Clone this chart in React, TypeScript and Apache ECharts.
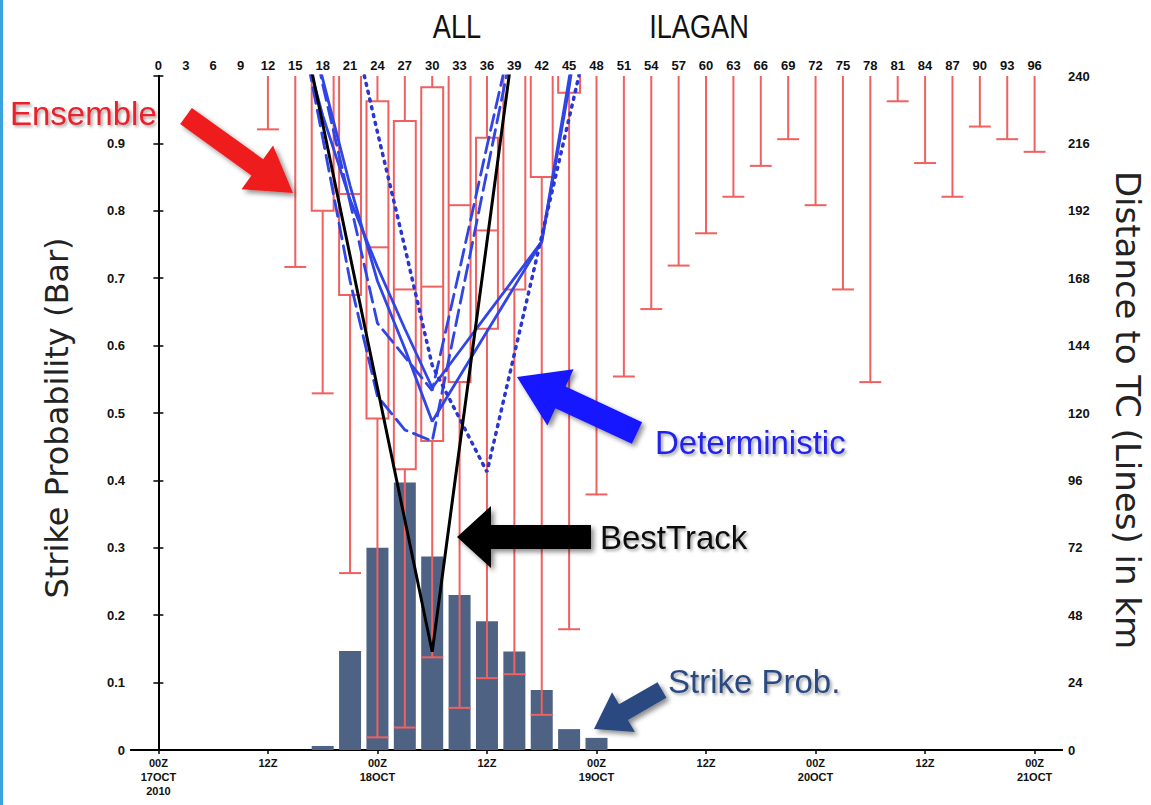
import { useEffect, useRef } from 'react';
import * as echarts from 'echarts';

// ---------- data ----------
const topHourLabels = [0, 3, 6, 9, 12, 15, 18, 21, 24, 27, 30, 33, 36, 39, 42, 45, 48, 51, 54, 57, 60, 63, 66, 69, 72, 75, 78, 81, 84, 87, 90, 93, 96];
const bottomTickHours = [0, 12, 24, 36, 48, 60, 72, 84, 96];
const bottomTickLabels = ['00Z\n17OCT\n2010', '12Z', '00Z\n18OCT', '12Z', '00Z\n19OCT', '12Z', '00Z\n20OCT', '12Z', '00Z\n21OCT'];

// strike probability bars (left axis)
const strikeHours = [18, 21, 24, 27, 30, 33, 36, 39, 42, 45, 48];
const strikeProb = [0.006, 0.147, 0.3, 0.397, 0.287, 0.23, 0.191, 0.146, 0.089, 0.031, 0.018];

// ensemble distance box plots (right axis, km); ABOVE = beyond the 240 km top of the axis
const ABOVE = 260;
const ensHours = [12, 15, 18, 21, 24, 27, 30, 33, 36, 39, 42, 45, 48, 51, 54, 57, 60, 63, 66, 69, 72, 75, 78, 81, 84, 87, 90, 93, 96];
const ensMin = [221, 172, 127, 63, 4.5, 8, 33, 15, 25.6, 27, 12.5, 43, 91, 133, 157, 172.5, 184, 197, 208, 217.5, 194, 164, 131, 231, 209, 197, 222, 217.5, 213];
const ensQ1 = [ABOVE, ABOVE, 192, 162, 118, 100, 110, 131, 150, 164, 204, 234, ABOVE, ABOVE, ABOVE, ABOVE, ABOVE, ABOVE, ABOVE, ABOVE, ABOVE, ABOVE, ABOVE, ABOVE, ABOVE, ABOVE, ABOVE, ABOVE, ABOVE];
const ensMed = [ABOVE, ABOVE, ABOVE, 198, 179, 164, 165, 194, 185, ABOVE, ABOVE, ABOVE, ABOVE, ABOVE, ABOVE, ABOVE, ABOVE, ABOVE, ABOVE, ABOVE, ABOVE, ABOVE, ABOVE, ABOVE, ABOVE, ABOVE, ABOVE, ABOVE, ABOVE];
const ensQ3 = [ABOVE, ABOVE, ABOVE, ABOVE, 231, 224, 236, ABOVE, 218, ABOVE, ABOVE, ABOVE, ABOVE, ABOVE, ABOVE, ABOVE, ABOVE, ABOVE, ABOVE, ABOVE, ABOVE, ABOVE, ABOVE, ABOVE, ABOVE, ABOVE, ABOVE, ABOVE, ABOVE];
const ensMax = ensHours.map(() => ABOVE);

// deterministic tracks (right axis, km)
const detHours = [15, 18, 21, 24, 27, 30, 33, 36, 39, 42, 45, 48];
const detSolid1 = [278, 239, 201, 167, 143, 117, 133, 149, 165, 181, 236, 300];
const detSolid2 = [262, 226, 196, 172, 150, 129, 142, 155, 168, 181, 239, 300];
const detDashed1 = [268, 218, 167, 126, 114, 110, 158, 206, 254, null, null, null];
const detDashed2 = [285, 237, 195, 152, 140, 128, 171, 215, 258, null, null, null];
const detDotted = [null, 330, 262, 220, 179, 137, 118, 99, 141, 183, 225, 267];

// best track (right axis, km)
const bestHours = [15, 18, 21, 24, 27, 30, 33, 36, 39];
const bestTrack = [270, 223, 176, 129, 82, 35, 108, 181, 254];

// ---------- helpers ----------
const RED = '#f06060';
const BLUE = '#2f45e6';

function arrowPoints(tail: number[], tip: number[], shaftW: number, headW: number, headLen: number) {
  const dx = tip[0] - tail[0];
  const dy = tip[1] - tail[1];
  const len = Math.hypot(dx, dy);
  const ux = dx / len, uy = dy / len;
  const nx = -uy, ny = ux;
  const bx = tip[0] - ux * headLen, by = tip[1] - uy * headLen;
  return [
    [tail[0] + (nx * shaftW) / 2, tail[1] + (ny * shaftW) / 2],
    [bx + (nx * shaftW) / 2, by + (ny * shaftW) / 2],
    [bx + (nx * headW) / 2, by + (ny * headW) / 2],
    [tip[0], tip[1]],
    [bx - (nx * headW) / 2, by - (ny * headW) / 2],
    [bx - (nx * shaftW) / 2, by - (ny * shaftW) / 2],
    [tail[0] - (nx * shaftW) / 2, tail[1] - (ny * shaftW) / 2],
  ];
}

const arrowShadow = { shadowBlur: 5, shadowColor: 'rgba(0,0,0,0.45)', shadowOffsetX: 3, shadowOffsetY: 3 };
const textShadow = { textShadowColor: 'rgba(0,0,0,0.35)', textShadowBlur: 3, textShadowOffsetX: 2, textShadowOffsetY: 2 };

function lineSeries(name: string, hours: number[], vals: (number | null)[], color: string, type: any, width = 2.8) {
  return {
    name,
    type: 'line',
    xAxisIndex: 0,
    yAxisIndex: 1,
    data: hours.map((h, i) => [h, vals[i]]),
    showSymbol: false,
    symbol: 'none',
    connectNulls: false,
    clip: true,
    z: 3,
    lineStyle: { color, width, type, cap: type === 'solid' ? 'butt' : 'round' },
  };
}

export default function App() {
  const ref = useRef<HTMLDivElement>(null);

  useEffect(() => {
    if (!ref.current) return;
    const chart = echarts.init(ref.current, null, { renderer: 'svg' });
    const labelFont = '"Liberation Sans", Arial, sans-serif';

    const option: any = {
      animation: false,
      backgroundColor: '#ffffff',
      textStyle: { fontFamily: labelFont },
      grid: { left: 131, right: 89, top: 76, bottom: 55, containLabel: false },
      xAxis: [
        {
          type: 'value',
          position: 'bottom',
          min: -3,
          max: 99,
          splitLine: { show: false },
          axisLine: { show: true, lineStyle: { color: '#000', width: 2 } },
          axisTick: { show: true, customValues: bottomTickHours, length: 4, lineStyle: { color: '#000', width: 1.5 } },
          axisLabel: {
            customValues: bottomTickHours,
            formatter: (v: number) => {
              const i = bottomTickHours.indexOf(Math.round(v));
              return i >= 0 ? bottomTickLabels[i] : '';
            },
            color: '#111',
            fontSize: 11,
            fontWeight: 'bold',
            lineHeight: 14,
            margin: 6,
          },
        },
        {
          type: 'value',
          position: 'top',
          min: -3,
          max: 99,
          splitLine: { show: false },
          axisLine: { show: true, lineStyle: { color: '#000', width: 2 } },
          axisTick: { show: false },
          axisLabel: {
            customValues: topHourLabels,
            formatter: (v: number) => String(Math.round(v)),
            color: '#111',
            fontSize: 13,
            fontWeight: 'bold',
            margin: 4,
          },
        },
      ],
      yAxis: [
        {
          type: 'value',
          position: 'left',
          min: 0,
          max: 1,
          interval: 0.1,
          splitLine: { show: false },
          axisLine: { show: true, lineStyle: { color: '#000', width: 2 } },
          axisTick: { show: true, length: 5, lineStyle: { color: '#000', width: 1.5 } },
          axisLabel: {
            formatter: (v: number) => (v >= 0.999 ? '' : v === 0 ? '0' : v.toFixed(1)),
            color: '#111',
            fontSize: 13,
            fontWeight: 'bold',
            margin: 6,
          },
        },
        {
          type: 'value',
          position: 'right',
          min: 0,
          max: 240,
          interval: 24,
          splitLine: { show: false },
          axisLine: { show: true, lineStyle: { color: '#000', width: 2 } },
          axisTick: { show: true, length: 5, lineStyle: { color: '#000', width: 1.5 } },
          axisLabel: { color: '#111', fontSize: 13, fontWeight: 'bold', margin: 6 },
        },
      ],
      series: [
        {
          name: 'Strike Prob.',
          type: 'bar',
          xAxisIndex: 0,
          yAxisIndex: 0,
          data: strikeHours.map((h, i) => [h, strikeProb[i]]),
          barWidth: 22,
          itemStyle: { color: '#4e6384' },
          z: 1,
        },
        {
          name: 'Ensemble',
          type: 'custom',
          xAxisIndex: 0,
          yAxisIndex: 1,
          clip: true,
          z: 2,
          encode: { x: 0, y: 1 },
          data: ensHours.map((h, i) => [h, ensMin[i], ensQ1[i], ensMed[i], ensQ3[i], ensMax[i]]),
          renderItem: (_params: any, api: any) => {
            const h = api.value(0);
            const p = [1, 2, 3, 4, 5].map((k) => api.coord([h, api.value(k)]));
            const half = api.size([3, 0])[0] * 0.4;
            const x = p[0][0];
            const st = { stroke: RED, lineWidth: 2, fill: null };
            return {
              type: 'group',
              children: [
                { type: 'line', shape: { x1: x, y1: p[0][1], x2: x, y2: p[1][1] }, style: st },
                { type: 'line', shape: { x1: x, y1: p[3][1], x2: x, y2: p[4][1] }, style: st },
                { type: 'rect', shape: { x: x - half, y: p[3][1], width: 2 * half, height: p[1][1] - p[3][1] }, style: st },
                { type: 'line', shape: { x1: x - half, y1: p[2][1], x2: x + half, y2: p[2][1] }, style: st },
                { type: 'line', shape: { x1: x - half, y1: p[0][1], x2: x + half, y2: p[0][1] }, style: st },
                { type: 'line', shape: { x1: x - half, y1: p[4][1], x2: x + half, y2: p[4][1] }, style: st },
              ],
            };
          },
        },
        lineSeries('Det1', detHours, detSolid1, BLUE, 'solid'),
        lineSeries('Det2', detHours, detSolid2, BLUE, 'solid'),
        lineSeries('Det3', detHours, detDashed1, BLUE, [16, 7]),
        lineSeries('Det4', detHours, detDashed2, BLUE, [16, 7]),
        lineSeries('Det5', detHours, detDotted, '#2a36d2', [2, 6], 3.5),
        lineSeries('BestTrack', bestHours, bestTrack, '#000000', 'solid', 3),
      ],
      graphic: [
        { type: 'rect', z: 100, shape: { x: 0, y: 0, width: 3, height: 805 }, style: { fill: '#3aa2dc' } },
        {
          type: 'text', z: 100, x: 457, y: 26, scaleX: 0.8,
          style: { text: 'ALL', fontSize: 34, fontFamily: labelFont, fill: '#111', align: 'center', verticalAlign: 'middle' },
        },
        {
          type: 'text', z: 100, x: 699, y: 26, scaleX: 0.8,
          style: { text: 'ILAGAN', fontSize: 34, fontFamily: labelFont, fill: '#111', align: 'center', verticalAlign: 'middle' },
        },
        {
          type: 'text', z: 100, x: 57, y: 418, rotation: Math.PI / 2,
          style: { text: 'Strike Probability (Bar)', fontSize: 32, fontFamily: '"DejaVu Sans", sans-serif', fill: '#222', align: 'center', verticalAlign: 'middle' },
        },
        {
          type: 'text', z: 100, x: 1128, y: 410, rotation: -Math.PI / 2,
          style: { text: 'Distance to TC (Lines) in km', fontSize: 34, fontFamily: '"DejaVu Sans", sans-serif', fill: '#222', align: 'center', verticalAlign: 'middle' },
        },
        // arrows
        { type: 'polygon', z: 100, shape: { points: arrowPoints([186, 116], [293, 193], 20, 54, 44) }, style: { fill: '#ee1c1c', ...arrowShadow } },
        { type: 'polygon', z: 100, shape: { points: arrowPoints([637, 433], [517, 377], 24, 62, 48) }, style: { fill: '#1414ff', ...arrowShadow } },
        { type: 'polygon', z: 100, shape: { points: arrowPoints([591, 537], [457, 537], 24, 62, 34) }, style: { fill: '#000000', ...arrowShadow } },
        { type: 'polygon', z: 100, shape: { points: arrowPoints([662, 690], [594, 729], 18, 46, 34) }, style: { fill: '#2c4a80', ...arrowShadow } },
        // annotation texts
        {
          type: 'text', z: 100, x: 10, y: 113,
          style: { text: 'Ensemble', fontSize: 33, fontFamily: labelFont, fill: '#e8202a', align: 'left', verticalAlign: 'middle', ...textShadow },
        },
        {
          type: 'text', z: 100, x: 655, y: 442,
          style: { text: 'Deterministic', fontSize: 33, fontFamily: labelFont, fill: '#2323ee', align: 'left', verticalAlign: 'middle', ...textShadow },
        },
        {
          type: 'text', z: 100, x: 600, y: 537,
          style: { text: 'BestTrack', fontSize: 33, fontFamily: labelFont, fill: '#111', align: 'left', verticalAlign: 'middle', ...textShadow },
        },
        {
          type: 'text', z: 100, x: 668, y: 681,
          style: { text: 'Strike Prob.', fontSize: 33, fontFamily: labelFont, fill: '#2c4a80', align: 'left', verticalAlign: 'middle', ...textShadow },
        },
      ],
    };

    chart.setOption(option);
    return () => chart.dispose();
  }, []);

  return <div ref={ref} style={{ position: 'fixed', left: 0, top: 0, width: 1151, height: 805 }} />;
}
